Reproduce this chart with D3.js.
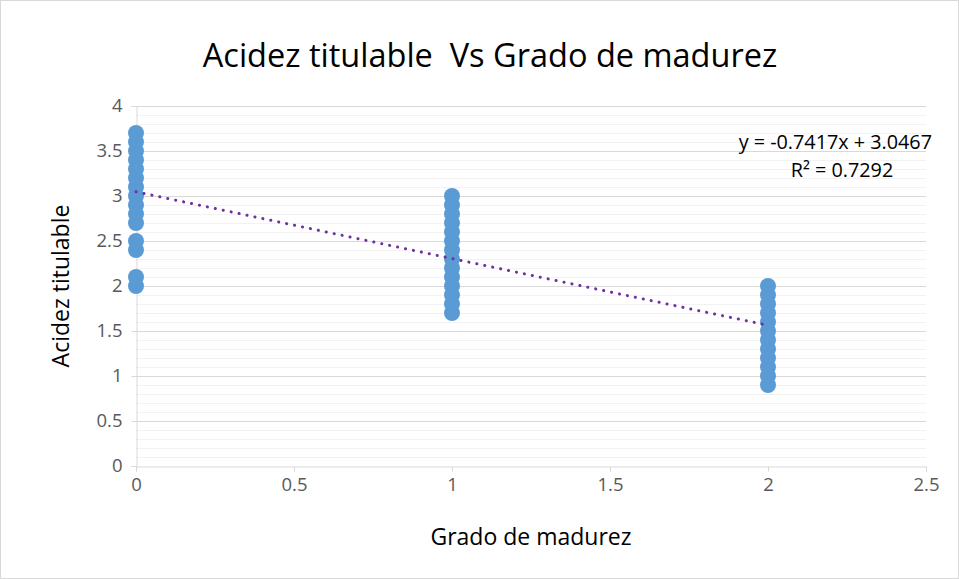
<!DOCTYPE html>
<html>
<head>
<meta charset="utf-8">
<script src="https://cdn.jsdelivr.net/npm/d3@7"></script>
<style>
  body { margin: 0; background: #fff; }
  text { font-family: "Open Sans", "Liberation Sans", sans-serif; white-space: pre; }
</style>
</head>
<body>
<div id="chart"></div>
<script>
// grado de madurez -> acidez titulable
const grado0 = [2.0, 2.1, 2.4, 2.5, 2.7, 2.8, 2.9, 3.0, 3.1, 3.2, 3.3, 3.4, 3.5, 3.6, 3.7];
const grado1 = [1.7, 1.8, 1.9, 2.0, 2.1, 2.2, 2.3, 2.4, 2.5, 2.6, 2.7, 2.8, 2.9, 3.0];
const grado2 = [0.9, 1.0, 1.1, 1.2, 1.3, 1.4, 1.5, 1.6, 1.7, 1.8, 1.9, 2.0];
const xTicks = [0, 0.5, 1, 1.5, 2, 2.5];
const yTicks = [0, 0.5, 1, 1.5, 2, 2.5, 3, 3.5, 4];
const slope = -0.7417, intercept = 3.0467, r2 = 0.7292;

const points = [].concat(
  grado0.map(v => ({ x: 0, y: v })),
  grado1.map(v => ({ x: 1, y: v })),
  grado2.map(v => ({ x: 2, y: v }))
);

const width = 959, height = 579;
const plotLeft = 136, plotRight = 926, plotTop = 106, plotBottom = 466;

const svg = d3.select('#chart').append('svg')
  .attr('width', width)
  .attr('height', height);

svg.append('rect')
  .attr('x', 0.5).attr('y', 0.5)
  .attr('width', width - 1).attr('height', height - 1)
  .attr('fill', '#fff')
  .attr('stroke', '#d9d9d9');

const x = d3.scaleLinear().domain([0, 2.5]).range([plotLeft, plotRight]);
const y = d3.scaleLinear().domain([0, 4]).range([plotBottom, plotTop]);

// minor gridlines
svg.append('g')
  .selectAll('line')
  .data(d3.range(1, 40).map(i => i / 10).filter(v => Math.round(v * 10) % 5 !== 0))
  .enter().append('line')
    .attr('x1', plotLeft).attr('x2', plotRight)
    .attr('y1', d => Math.round(y(d)) + 0.5)
    .attr('y2', d => Math.round(y(d)) + 0.5)
    .attr('stroke', '#f2f2f2');

// major gridlines
svg.append('g')
  .selectAll('line')
  .data(yTicks.slice(1))
  .enter().append('line')
    .attr('x1', plotLeft).attr('x2', plotRight)
    .attr('y1', d => Math.round(y(d)) + 0.5)
    .attr('y2', d => Math.round(y(d)) + 0.5)
    .attr('stroke', '#d9d9d9');

const xAxis = svg.append('g')
  .attr('transform', `translate(0, ${plotBottom + 0.5})`)
  .call(d3.axisBottom(x).tickValues(xTicks).tickSize(5).tickPadding(6).tickFormat(d3.format('')));

const yAxis = svg.append('g')
  .attr('transform', `translate(${plotLeft + 0.5}, 0)`)
  .call(d3.axisLeft(y).tickValues(yTicks).tickSize(5).tickPadding(9).tickFormat(d3.format('')));

[xAxis, yAxis].forEach(g => {
  g.select('.domain').attr('stroke', '#d9d9d9');
  g.selectAll('.tick line').attr('stroke', '#d9d9d9');
  g.selectAll('.tick text')
    .attr('fill', '#595959')
    .style('font-size', '18.5px');
});

svg.append('g')
  .selectAll('circle')
  .data(points)
  .enter().append('circle')
    .attr('cx', d => x(d.x))
    .attr('cy', d => y(d.y))
    .attr('r', 8)
    .attr('fill', '#5b9bd5');

svg.append('line')
  .attr('x1', x(0)).attr('y1', y(intercept))
  .attr('x2', x(2)).attr('y2', y(intercept + slope * 2))
  .attr('stroke', '#7030a0')
  .attr('stroke-width', 3)
  .attr('stroke-linecap', 'round')
  .attr('stroke-dasharray', '0.1 8');

svg.append('text')
  .attr('x', 932).attr('y', 149)
  .attr('text-anchor', 'end')
  .style('font-size', '19.8px')
  .attr('fill', '#000')
  .text(`y = ${slope}x + ${intercept}`);

svg.append('text')
  .attr('x', 842).attr('y', 177)
  .attr('text-anchor', 'middle')
  .style('font-size', '19.8px')
  .attr('fill', '#000')
  .text(`R² = ${r2}`);

svg.append('text')
  .attr('x', 490).attr('y', 67)
  .attr('text-anchor', 'middle')
  .style('font-size', '32.5px')
  .attr('fill', '#000')
  .text('Acidez titulable  Vs Grado de madurez');

svg.append('text')
  .attr('x', 531).attr('y', 545)
  .attr('text-anchor', 'middle')
  .style('font-size', '23px')
  .attr('fill', '#000')
  .text('Grado de madurez');

svg.append('text')
  .attr('transform', 'translate(69, 286) rotate(-90)')
  .attr('text-anchor', 'middle')
  .style('font-size', '23px')
  .attr('fill', '#000')
  .text('Acidez titulable');
</script>
</body>
</html>
